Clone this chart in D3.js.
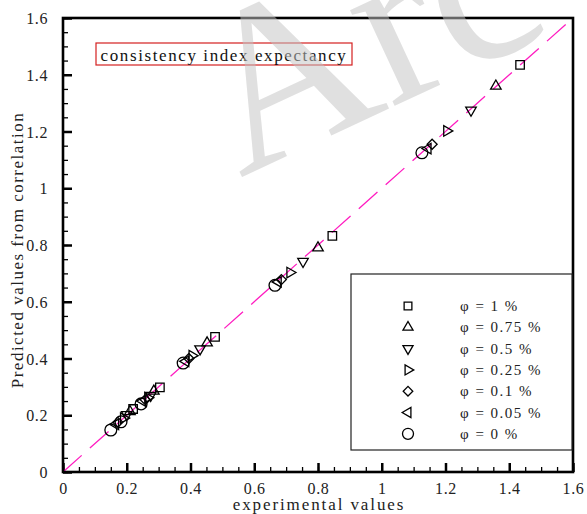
<!DOCTYPE html>
<html><head><meta charset="utf-8">
<script src="https://cdn.jsdelivr.net/npm/d3@7"></script>
<style>body{margin:0;background:#fff}svg{display:block}</style>
</head><body><svg id="c" width="587" height="514"></svg>
<script>
const xTicks = [0,0.2,0.4,0.6,0.8,1,1.2,1.4,1.6];
const yTicks = [0,0.2,0.4,0.6,0.8,1,1.2,1.4,1.6];
const xTickLabels = ["0","0.2","0.4","0.6","0.8","1","1.2","1.4","1.6"];
const yTickLabels = ["0","0.2","0.4","0.6","0.8","1","1.2","1.4","1.6"];
const seriesNames = ["φ = 1 %","φ = 0.75 %","φ = 0.5 %","φ = 0.25 %","φ = 0.1 %","φ = 0.05 %","φ = 0 %"];
const expSquare   = [0.22, 0.304, 0.477, 0.845, 1.434];
const predSquare  = [0.222,0.298, 0.476, 0.832, 1.435];
const expUp       = [0.21, 0.285, 0.452, 0.800, 1.358];
const predUp      = [0.213,0.285, 0.455, 0.790, 1.360];
const expDown     = [0.20, 0.275, 0.430, 0.753, 1.280];
const predDown    = [0.202,0.270, 0.434, 0.742, 1.275];
const expRight    = [0.19, 0.266, 0.405, 0.712, 1.204];
const predRight   = [0.19, 0.262, 0.410, 0.703, 1.202];
const expDiamond  = [0.172,0.258, 0.395, 0.685, 1.158];
const predDiamond = [0.175,0.255, 0.400, 0.678, 1.155];
const expLeft     = [0.165,0.250, 0.385, 0.675, 1.145];
const predLeft    = [0.168,0.250, 0.390, 0.670, 1.140];
const expCircle   = [0.150,0.182, 0.245, 0.377, 0.665, 1.126];
const predCircle  = [0.148,0.177, 0.240, 0.384, 0.658, 1.125];
const titleText = "consistency index expectancy";

const svg = d3.select("#c");
const L=63, R=573, T=18, B=472;
const x = d3.scaleLinear().domain([0,1.6]).range([L,R]);
const y = d3.scaleLinear().domain([0,1.6]).range([B,T]);
const serif = "'Liberation Serif','Times New Roman',serif";

// minor ticks
const minor = d3.range(0,1.6001,0.05);
const gx = svg.append("g").attr("transform",`translate(0,${B})`)
  .call(d3.axisBottom(x).tickValues(minor).tickSize(-5).tickFormat(""));
const gy = svg.append("g").attr("transform",`translate(${L},0)`)
  .call(d3.axisLeft(y).tickValues(minor).tickSize(-5).tickFormat(""));
const gx2 = svg.append("g").attr("transform",`translate(0,${B})`)
  .call(d3.axisBottom(x).tickValues(xTicks).tickSize(-9).tickPadding(20).tickFormat((d,i)=>xTickLabels[i]));
const gy2 = svg.append("g").attr("transform",`translate(${L},0)`)
  .call(d3.axisLeft(y).tickValues(yTicks).tickSize(-9).tickPadding(15).tickFormat((d,i)=>yTickLabels[i]));
[gx,gy,gx2,gy2].forEach(g=>{g.select(".domain").remove();g.selectAll("line").attr("stroke","#000");});
gx.selectAll("line").attr("stroke-width",1.3);
gy.selectAll("line").attr("stroke-width",1.3);
gx2.selectAll("line").attr("stroke-width",2.5);
gy2.selectAll("line").attr("stroke-width",2.5);
[gx2,gy2].forEach(g=>g.selectAll("text").attr("font-family",serif).attr("font-size",16)
  .attr("fill","#222").attr("letter-spacing","0.6px"));
gx2.selectAll("text").attr("dy","0.1em");
gy2.selectAll("text").attr("dy","0.35em");

// diagonal reference line
svg.append("line").attr("x1",x(0)).attr("y1",y(0)).attr("x2",x(1.6)).attr("y2",y(1.6))
  .attr("stroke","#ff1cc0").attr("stroke-width",1.3).attr("stroke-dasharray","25,11");

// frame
svg.append("rect").attr("x",L).attr("y",T).attr("width",R-L).attr("height",B-T)
  .attr("fill","none").attr("stroke","#000").attr("stroke-width",2.6);

const sym = (type,size,rot)=>({type,size,rot});
const styles = [
  sym(d3.symbolSquare,72,0),
  sym(d3.symbolTriangle,48,0),
  sym(d3.symbolTriangle,48,180),
  sym(d3.symbolTriangle,48,90),
  sym(d3.symbolSquare,50,45),
  sym(d3.symbolTriangle,48,-90),
  sym(d3.symbolCircle,110,0)
];
const series = [
  [expSquare,predSquare],[expUp,predUp],[expDown,predDown],[expRight,predRight],
  [expDiamond,predDiamond],[expLeft,predLeft],[expCircle,predCircle]
];
const gp = svg.append("g");
series.forEach((s,si)=>{
  const st = styles[si];
  gp.selectAll(null).data(s[0].map((v,i)=>[v,s[1][i]])).enter().append("path")
    .attr("d",d3.symbol().type(st.type).size(st.size))
    .attr("transform",d=>`translate(${x(d[0])},${y(d[1])}) rotate(${st.rot})`)
    .attr("fill","none").attr("stroke","#000").attr("stroke-width",1.3);
});

// title box
svg.append("rect").attr("x",96).attr("y",43).attr("width",256).attr("height",22)
  .attr("fill","#fff").attr("stroke","#d42020").attr("stroke-width",1.2);
svg.append("text").attr("x",224).attr("y",60.5).attr("text-anchor","middle")
  .attr("font-family",serif).attr("font-size",17).attr("letter-spacing","1.6px")
  .attr("fill","#111").text(titleText);

// legend
svg.append("rect").attr("x",351).attr("y",274).attr("width",221).attr("height",176)
  .attr("fill","#fff").attr("stroke","#222").attr("stroke-width",1.2);
const legStyles = [
  sym(d3.symbolSquare,60,0),sym(d3.symbolTriangle,44,0),sym(d3.symbolTriangle,44,180),
  sym(d3.symbolTriangle,44,90),sym(d3.symbolSquare,46,45),sym(d3.symbolTriangle,44,-90),
  sym(d3.symbolCircle,95,0)];
seriesNames.forEach((n,i)=>{
  const yy = 306 + i*21.3;
  const st = legStyles[i];
  svg.append("path").attr("d",d3.symbol().type(st.type).size(st.size)())
    .attr("transform",`translate(408,${yy}) rotate(${st.rot})`)
    .attr("fill","none").attr("stroke","#000").attr("stroke-width",1.3);
  svg.append("text").attr("x",460).attr("y",yy+5).attr("font-family",serif)
    .attr("font-size",15).attr("letter-spacing","1.5px").attr("fill","#222").text(n);
});

// axis titles
svg.append("text").attr("x",319).attr("y",510).attr("text-anchor","middle")
  .attr("font-family",serif).attr("font-size",17).attr("letter-spacing","1.9px")
  .attr("fill","#222").text("experimental values");
svg.append("text").attr("transform",`translate(23,250) rotate(-90)`).attr("text-anchor","middle")
  .attr("font-family",serif).attr("font-size",17).attr("letter-spacing","1.5px")
  .attr("fill","#222").text("Predicted values from correlation");

// watermark
svg.append("text").attr("transform","translate(240,178) rotate(-25)")
  .attr("font-family",serif).attr("font-size",230)
  .attr("fill","rgb(196,196,196)").attr("opacity",0.52).text("Arc");
</script></body></html>
